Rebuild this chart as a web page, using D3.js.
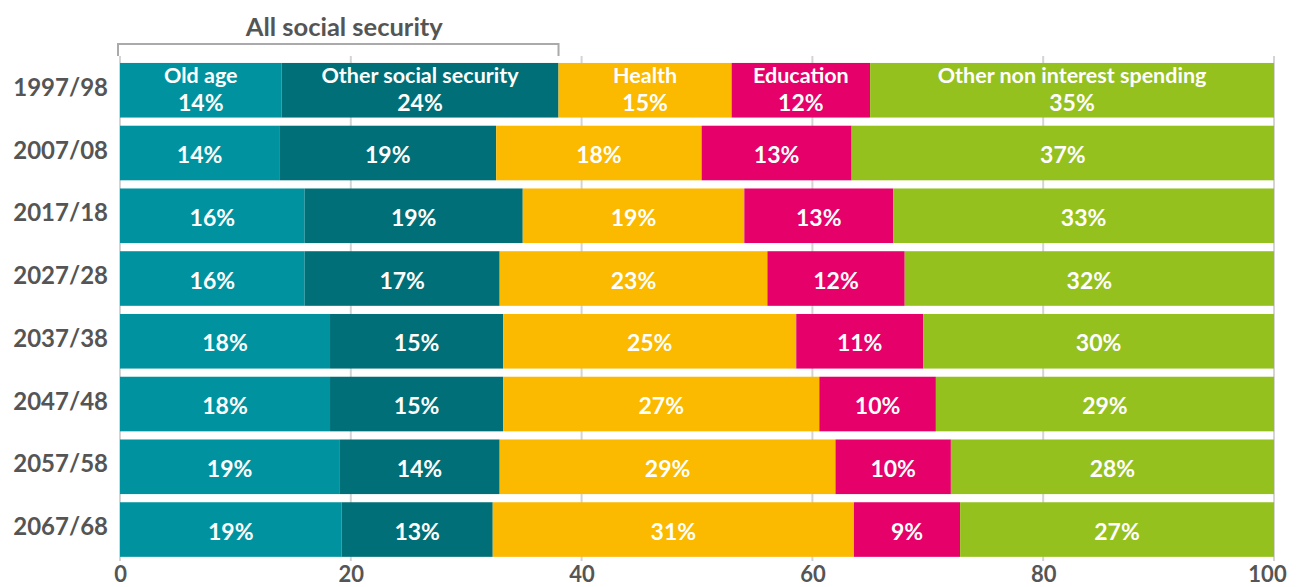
<!DOCTYPE html>
<html>
<head>
<meta charset="utf-8">
<script src="https://cdn.jsdelivr.net/npm/d3@7"></script>
<style>
  body { margin: 0; background: #fff; }
  text { font-family: Lato, "Open Sans", sans-serif; font-weight: 700; }
</style>
</head>
<body>
<svg id="chart" width="1303" height="587"></svg>
<script>
var years = ['1997/98', '2007/08', '2017/18', '2027/28', '2037/38', '2047/48', '2057/58', '2067/68'];
var categories = ['Old age', 'Other social security', 'Health', 'Education', 'Other non interest spending'];
var oldAge = [14.0, 13.8, 16.0, 16.0, 18.2, 18.2, 19.0, 19.2];
var otherSocial = [24.0, 18.8, 18.9, 16.9, 15.0, 15.0, 13.9, 13.1];
var health = [15.0, 17.8, 19.2, 23.2, 25.4, 27.4, 29.1, 31.3];
var education = [12.0, 13.0, 12.9, 11.9, 11.0, 10.1, 10.0, 9.2];
var otherSpending = [35.0, 36.6, 33.0, 32.0, 30.4, 29.3, 28.0, 27.2];
var xTicks = [0, 20, 40, 60, 80, 100];
var colors = ['#00939f', '#006f77', '#fbb900', '#e5006a', '#95c11f'];
var bracketLabel = 'All social security';

var series = [oldAge, otherSocial, health, education, otherSpending];
var rows = years.map(function (y, i) {
    var r = { year: y };
    categories.forEach(function (c, j) { r[c] = series[j][i]; });
    return r;
});
var stacked = d3.stack().keys(categories)(rows);

var svg = d3.select('#chart');
var x = d3.scaleLinear().domain([0, 100]).range([120, 1274]);
var y = d3.scaleBand().domain(years).range([54.8, 565]).padding(0.13);
var grey = '#555';

// grid lines
svg.append('g').selectAll('line')
    .data(xTicks)
    .enter().append('line')
    .attr('x1', function (d) { return x(d); })
    .attr('x2', function (d) { return x(d); })
    .attr('y1', 56)
    .attr('y2', 561)
    .attr('stroke', '#d4d4d4')
    .attr('stroke-width', 2);

// bars
var layers = svg.append('g').selectAll('g')
    .data(stacked)
    .enter().append('g')
    .attr('fill', function (d, i) { return colors[i]; });
layers.selectAll('rect')
    .data(function (d) { return d; })
    .enter().append('rect')
    .attr('x', function (d) { return x(d[0]); })
    .attr('y', function (d) { return y(d.data.year); })
    .attr('width', function (d) { return x(d[1]) - x(d[0]); })
    .attr('height', y.bandwidth());

// labels inside bars
stacked.forEach(function (layer) {
    var key = layer.key;
    layer.forEach(function (d, i) {
        var cx = (x(d[0]) + x(d[1])) / 2;
        var top = y(d.data.year);
        var pct = Math.round(d[1] - d[0]) + '%';
        if (i === 0) {
            svg.append('text')
                .attr('x', cx).attr('y', top + 20)
                .attr('text-anchor', 'middle')
                .attr('fill', '#fff')
                .style('font-size', '21.5px')
                .text(key);
            svg.append('text')
                .attr('x', cx).attr('y', top + 48)
                .attr('text-anchor', 'middle')
                .attr('fill', '#fff')
                .style('font-size', '23px')
                .text(pct);
        } else {
            svg.append('text')
                .attr('x', cx).attr('y', top + y.bandwidth() / 2 + 10)
                .attr('text-anchor', 'middle')
                .attr('fill', '#fff')
                .style('font-size', '23px')
                .text(pct);
        }
    });
});

// y axis labels
var yAxis = svg.append('g')
    .attr('transform', 'translate(108,-2)')
    .call(d3.axisLeft(y).tickSize(0).tickPadding(0));
yAxis.select('.domain').remove();
yAxis.selectAll('text')
    .attr('fill', grey)
    .style('font-size', '24px')
    .style('font-family', 'Lato, sans-serif');

// x axis labels
var xAxis = svg.append('g')
    .attr('transform', 'translate(0,561)')
    .call(d3.axisBottom(x).tickValues(xTicks).tickSize(0));
xAxis.select('.domain').remove();
xAxis.selectAll('text')
    .attr('fill', grey)
    .style('font-size', '22px')
    .style('font-family', 'Lato, sans-serif')
    .attr('y', 21)
    .attr('dy', 0)
    .attr('x', function (d) { return d === 100 ? -7 : 0; });

// bracket over the social security part
var bx0 = x(0) - 2;
var bx1 = x(oldAge[0] + otherSocial[0]);
svg.append('path')
    .attr('d', 'M' + bx0 + ',56V44H' + bx1 + 'V56')
    .attr('fill', 'none')
    .attr('stroke', '#aaa')
    .attr('stroke-width', 2);
svg.append('text')
    .attr('x', (bx0 + bx1) / 2 + 6)
    .attr('y', 36)
    .attr('text-anchor', 'middle')
    .attr('fill', grey)
    .style('font-size', '25.5px')
    .text(bracketLabel);
</script>
</body>
</html>
